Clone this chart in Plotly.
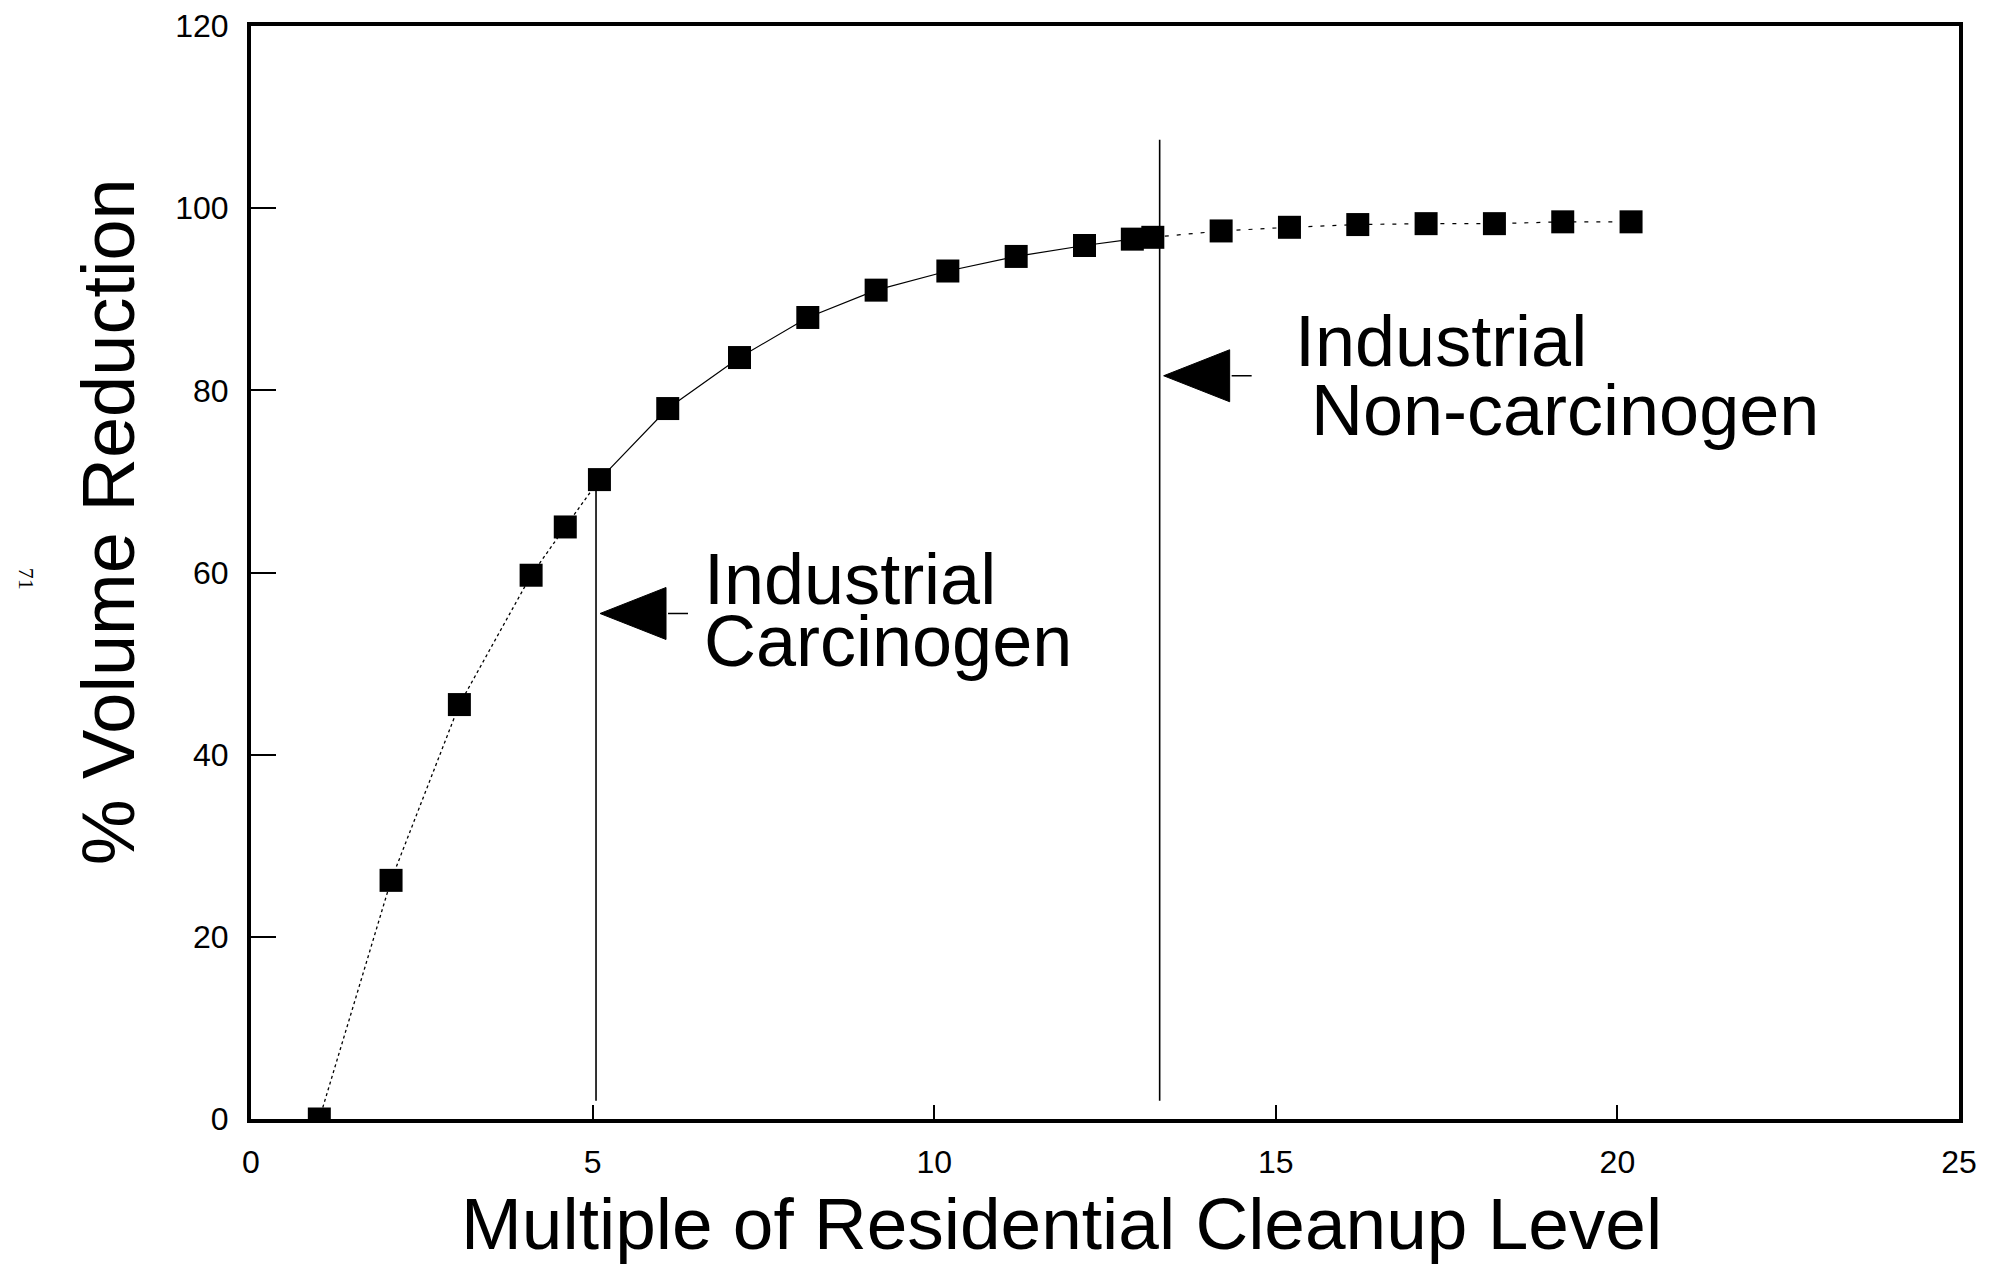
import plotly.graph_objects as go

# ---- data ----
multiple = [1, 2.05, 3.05, 4.1, 4.6, 5.1, 6.1, 7.15, 8.15, 9.15, 10.2, 11.2, 12.2,
            12.9, 13.2, 14.2, 15.2, 16.2, 17.2, 18.2, 19.2, 20.2]
volume_reduction = [0, 26.2, 45.5, 59.7, 65.0, 70.2, 78.0, 83.6, 88.0, 91.0, 93.1, 94.7,
                    95.9, 96.6, 96.8, 97.5, 97.9, 98.2, 98.3, 98.3, 98.5, 98.5]
x_ticks = [0, 5, 10, 15, 20, 25]
y_ticks = [0, 20, 40, 60, 80, 100, 120]

carc_level = 5.05
noncarc_level = 13.3

FONT = "Liberation Sans, Arial, Helvetica, sans-serif"

fig = go.Figure()

# connecting line segments (dotted / solid / sparse dashed as in the scan)
seg1 = slice(0, 6)
seg2 = slice(5, 15)
seg3 = slice(14, None)
fig.add_trace(go.Scatter(x=multiple[seg1], y=volume_reduction[seg1], mode="lines",
                         line=dict(color="black", width=1.3, dash="dot"), hoverinfo="skip"))
fig.add_trace(go.Scatter(x=multiple[seg2], y=volume_reduction[seg2], mode="lines",
                         line=dict(color="black", width=1.2), hoverinfo="skip"))
fig.add_trace(go.Scatter(x=multiple[seg3], y=volume_reduction[seg3], mode="lines",
                         line=dict(color="black", width=1.2, dash="4px,8px"), hoverinfo="skip"))
fig.add_trace(go.Scatter(x=multiple, y=volume_reduction, mode="markers",
                         marker=dict(symbol="square", size=23, color="black",
                                     line=dict(width=0))))

# vertical level lines
fig.add_shape(type="line", xref="x", yref="y", x0=carc_level, x1=carc_level, y0=2, y1=70,
              line=dict(color="black", width=1.6))
fig.add_shape(type="line", xref="x", yref="y", x0=noncarc_level, x1=noncarc_level, y0=2, y1=107.5,
              line=dict(color="black", width=1.6))

# arrowheads (pointing left at the level lines) with short tails
for lvl, yy in [(carc_level, 55.5), (noncarc_level, 81.6)]:
    fig.add_shape(type="path", xref="x", yref="y", xsizemode="pixel", ysizemode="pixel",
                  xanchor=lvl, yanchor=yy, path="M4,0 L70,26 L70,-26 Z",
                  fillcolor="black", line=dict(color="black", width=1))
    fig.add_shape(type="line", xref="x", yref="y", xsizemode="pixel", ysizemode="pixel",
                  xanchor=lvl, yanchor=yy, x0=72, x1=92, y0=0, y1=0,
                  line=dict(color="black", width=1.5))

labels = [
    ("Industrial", 6.6, 59.3),
    ("Carcinogen", 6.6, 52.45),
    ("Industrial", 15.25, 85.45),
    ("Non-carcinogen", 15.48, 77.85),
]
for txt, lx, ly in labels:
    fig.add_annotation(text=txt, x=lx, y=ly, xref="x", yref="y", xanchor="left",
                       yanchor="middle", showarrow=False,
                       font=dict(family=FONT, size=72, color="black"))

# axis titles
fig.add_annotation(text="Multiple of Residential Cleanup Level", xref="paper", yref="paper",
                   x=0.4748, y=-0.096, xanchor="center", yanchor="middle", showarrow=False,
                   font=dict(family=FONT, size=73, color="black"))
fig.add_annotation(text="% Volume Reduction", xref="paper", yref="paper",
                   x=-0.0837, y=0.546, xanchor="center", yanchor="middle", showarrow=False,
                   textangle=-90, font=dict(family=FONT, size=74, color="black"))
# page number from the scan margin
fig.add_annotation(text="71", xref="paper", yref="paper", x=-0.131, y=0.494,
                   xanchor="center", yanchor="middle", showarrow=False, textangle=90,
                   font=dict(family="Liberation Serif, serif", size=22, color="black"))

fig.update_layout(
    width=1993, height=1261,
    margin=dict(l=243, r=42, t=18, b=150, autoexpand=False),
    paper_bgcolor="white", plot_bgcolor="white",
    showlegend=False,
    xaxis=dict(range=[0, 25], tickvals=x_ticks, ticktext=[str(v) for v in x_ticks],
               ticks="inside", ticklen=14, tickwidth=1.5, tickcolor="black",
               showgrid=False, zeroline=False, showline=True, linecolor="black",
               linewidth=4, mirror=True, ticklabelstandoff=12, automargin=False,
               tickfont=dict(family=FONT, size=32, color="black")),
    yaxis=dict(range=[0, 120], tickvals=y_ticks, ticktext=[str(v) for v in y_ticks],
               ticks="inside", ticklen=25, tickwidth=2, tickcolor="black",
               showgrid=False, zeroline=False, showline=True, linecolor="black",
               linewidth=4, mirror=True, ticklabelstandoff=12, automargin=False,
               tickfont=dict(family=FONT, size=32, color="black")),
)

fig.write_html("out.html")
